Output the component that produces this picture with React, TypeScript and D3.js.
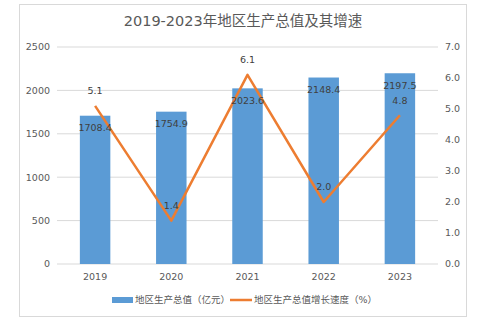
import React from "react";
import * as d3 from "d3";

const years = ["2019", "2020", "2021", "2022", "2023"];
const gdp = [1708.4, 1754.9, 2023.6, 2148.4, 2197.5];
const growth = [5.1, 1.4, 6.1, 2.0, 4.8];
const leftTicks = [0, 500, 1000, 1500, 2000, 2500];
const rightTicks = [0, 1, 2, 3, 4, 5, 6, 7];
const title = "2019-2023年地区生产总值及其增速";
const legendBar = "地区生产总值（亿元）";
const legendLine = "地区生产总值增长速度（%）";

const W = 487, H = 323;
const plot = { left: 57, right: 438, top: 47, bottom: 264 };
const font = "'DejaVu Sans', 'Noto Sans CJK SC', sans-serif";
const txt = "#595959";
const barColor = "#5b9bd5";
const lineColor = "#ed7d31";

export default function App() {
  const x = d3.scaleBand<string>().domain(years).range([plot.left, plot.right]).paddingInner(0.6).paddingOuter(0.3);
  const yL = d3.scaleLinear().domain([0, 2500]).range([plot.bottom, plot.top]);
  const yR = d3.scaleLinear().domain([0, 7]).range([plot.bottom, plot.top]);
  const cx = (d: string) => (x(d) as number) + x.bandwidth() / 2;
  const line = d3.line<number>().x((_, i) => cx(years[i])).y((v) => yR(v));

  return (
    <svg width={W} height={H} style={{ position: "absolute", left: 0, top: 0 }} fontFamily={font}>
      <rect x={0} y={0} width={W} height={H} fill="#fff" />
      <rect x={19.5} y={4.5} width={447} height={312} fill="#fff" stroke="#d9d9d9" strokeWidth={1} />
      <text x={243} y={26} textAnchor="middle" fontSize={14.5} fill={txt}>{title}</text>
      {leftTicks.map((t) => (
        <g key={"g" + t}>
          <line x1={plot.left} x2={plot.right} y1={yL(t)} y2={yL(t)} stroke="#d9d9d9" strokeWidth={1} />
          <text x={50} y={yL(t)} dy="0.35em" textAnchor="end" fontSize={9.5} fill={txt}>{t}</text>
        </g>
      ))}
      {rightTicks.map((t) => (
        <text key={"r" + t} x={445} y={yR(t)} dy="0.35em" textAnchor="start" fontSize={9.5} fill={txt}>{t.toFixed(1)}</text>
      ))}
      {years.map((y, i) => (
        <g key={y}>
          <rect x={x(y)} y={yL(gdp[i])} width={x.bandwidth()} height={plot.bottom - yL(gdp[i])} fill={barColor} />
          <text x={cx(y)} y={plot.bottom + 13} dy="0.35em" textAnchor="middle" fontSize={9.5} fill={txt}>{y}</text>
        </g>
      ))}
      <path d={line(growth) || ""} fill="none" stroke={lineColor} strokeWidth={2.5} strokeLinejoin="round" />
      {years.map((y, i) => (
        <g key={"l" + y}>
          <text x={cx(y)} y={yL(gdp[i]) + 12} dy="0.35em" textAnchor="middle" fontSize={9.5} fill="#404040">{gdp[i].toFixed(1)}</text>
          <text x={cx(y)} y={yR(growth[i]) - 15} dy="0.35em" textAnchor="middle" fontSize={9.5} fill="#404040">{growth[i].toFixed(1)}</text>
        </g>
      ))}
      <rect x={112} y={297} width={21} height={6} fill={barColor} />
      <text x={135} y={300} dy="0.35em" fontSize={9.5} fill={txt}>{legendBar}</text>
      <line x1={230} x2={252} y1={300} y2={300} stroke={lineColor} strokeWidth={2.5} />
      <text x={254} y={300} dy="0.35em" fontSize={9.5} fill={txt}>{legendLine}</text>
    </svg>
  );
}
